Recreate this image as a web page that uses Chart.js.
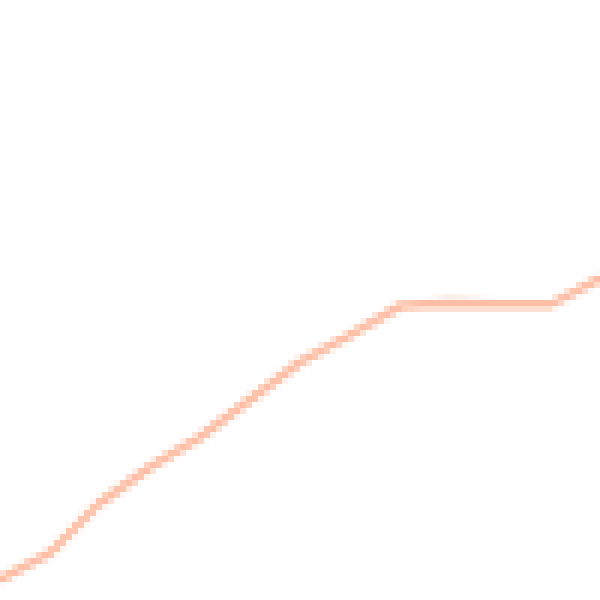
<!DOCTYPE html>
<html>
<head>
<meta charset="utf-8">
<script src="https://cdn.jsdelivr.net/npm/chart.js@4"></script>
<style>
  html, body { margin: 0; padding: 0; background: #fff; }
  #chart { width: 600px !important; height: 600px !important; image-rendering: pixelated; display: block; }
</style>
</head>
<body>
<canvas id="chart" width="100" height="100"></canvas>
<script>
// step positions along the x axis and the line's values
const steps = [0, 1, 2, 3, 4, 5, 6, 7, 8, 9, 10, 11, 12];
const values = [20, 47, 97, 133, 163, 200, 238, 265, 294, 297, 295, 295, 322];

const ctx = document.getElementById("chart").getContext("2d");
new Chart(ctx, {
    type: "line",
    data: {
        datasets: [{
            data: steps.map((s, i) => ({ x: s, y: values[i] })),
            borderColor: "rgba(255, 165, 130, 0.72)",
            borderWidth: 1.5,
            pointRadius: 0,
            tension: 0,
            fill: false,
        }],
    },
    options: {
        responsive: false,
        devicePixelRatio: 1,
        animation: false,
        layout: { padding: 0 },
        plugins: { legend: { display: false }, tooltip: { enabled: false } },
        scales: {
            x: { type: "linear", min: 0, max: 12, display: false },
            y: { min: 0, max: 600, display: false },
        },
    },
});
</script>
</body>
</html>
